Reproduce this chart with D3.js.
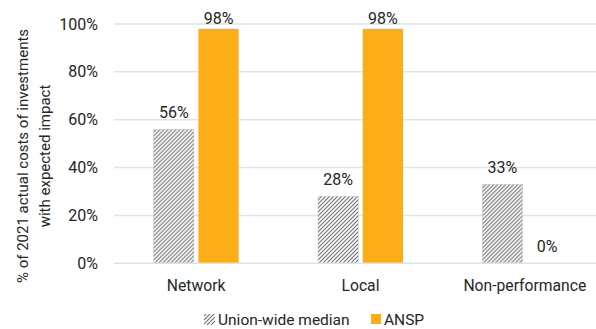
<!DOCTYPE html>
<html><head><meta charset="utf-8">
<script src="https://cdn.jsdelivr.net/npm/d3@7"></script>
<style>
html,body{margin:0;padding:0;background:#fff;}
svg text{font-family:Roboto, "Open Sans", sans-serif;fill:#262626;}
</style></head>
<body>
<svg id="c" width="596" height="329"></svg>
<script>
(function(){
const categories = ["Network", "Local", "Non-performance"];
const seriesNames = ["Union-wide median", "ANSP"];
const unionMedian = [0.56, 0.28, 0.33];
const ansp = [0.98, 0.98, 0.0];
const yTicks = [0, 0.2, 0.4, 0.6, 0.8, 1.0];
const yTitle = ["% of 2021 actual costs of investments", "with expected impact"];

const svg = d3.select("#c");
const defs = svg.append("defs");
const pat = defs.append("pattern").attr("id","hatch").attr("patternUnits","userSpaceOnUse")
  .attr("width",4).attr("height",4);
pat.append("rect").attr("width",4).attr("height",4).attr("fill","#fff");
pat.append("path").attr("d","M-1,1 l2,-2 M0,4 l4,-4 M3,5 l2,-2").attr("stroke","#707070").attr("stroke-width",1.1);

const mLeft = 114, mRight = 607, mTop = 24, mBottom = 263.3;
const x = d3.scaleBand().domain(categories).range([mLeft, mRight]).padding(0);
const y = d3.scaleLinear().domain([0, 1]).range([mBottom, mTop]);
const xs = d3.scaleBand().domain(seriesNames).range([0, 85]).paddingInner(0.1);

// gridlines
svg.append("g").selectAll("line").data(yTicks.filter(d => d > 0)).join("line")
  .attr("x1", mLeft).attr("x2", 596).attr("y1", d => y(d)).attr("y2", d => y(d))
  .attr("stroke", "#e3e3e3").attr("stroke-width", 1.5);

// y axis labels
const yAxis = d3.axisLeft(y).tickValues(yTicks).tickFormat(d3.format(".0%")).tickSize(0).tickPadding(16);
const ga = svg.append("g").attr("transform", `translate(${mLeft},0)`).call(yAxis);
ga.select(".domain").remove();
ga.selectAll("text").attr("font-size", 16).attr("fill", "#262626").attr("font-family", "Roboto, sans-serif");

const groups = svg.append("g").selectAll("g").data(categories).join("g")
  .attr("transform", d => `translate(${x(d) + x.bandwidth()/2 - 42.5},0)`);

const data = categories.map((c, i) => [
  {s: seriesNames[0], v: unionMedian[i]},
  {s: seriesNames[1], v: ansp[i]}
]);

groups.each(function(c, i) {
  const g = d3.select(this);
  g.selectAll("rect").data(data[i]).join("rect")
    .attr("x", d => xs(d.s)).attr("width", xs.bandwidth())
    .attr("y", d => y(d.v)).attr("height", d => mBottom - y(d.v))
    .attr("fill", d => d.s === seriesNames[0] ? "url(#hatch)" : "#fbae17")
    .attr("stroke", d => d.s === seriesNames[0] ? "#c4c4c4" : "none")
    .attr("stroke-width", 0.5);
  g.selectAll("text.val").data(data[i]).join("text").attr("class","val")
    .attr("x", d => xs(d.s) + xs.bandwidth()/2)
    .attr("y", d => Math.max(y(d.v) - 11.5, y(1)))
    .attr("text-anchor", "middle").attr("font-size", 16)
    .text(d => d3.format(".0%")(d.v));
});

// baseline
svg.append("line").attr("x1", mLeft).attr("x2", 596).attr("y1", mBottom).attr("y2", mBottom)
  .attr("stroke", "#d6e3f3").attr("stroke-width", 1.5);

// x labels
svg.append("g").selectAll("text").data(categories).join("text")
  .attr("x", d => x(d) + x.bandwidth()/2).attr("y", 291)
  .attr("text-anchor", "middle").attr("font-size", 15.7).text(d => d);

// y title
const yt = svg.append("text").attr("transform", "translate(0,156) rotate(-90)")
  .attr("text-anchor", "middle").attr("font-size", 15);
yt.selectAll("tspan").data(yTitle).join("tspan")
  .attr("x", 0).attr("y", (d, i) => 28 + i * 22).text(d => d);

// legend
const leg = svg.append("g");
leg.append("rect").attr("x", 204).attr("y", 314).attr("width", 11).attr("height", 11).attr("fill", "url(#hatch)");
leg.append("text").attr("x", 218).attr("y", 325).attr("font-size", 15.5).text(seriesNames[0]);
leg.append("rect").attr("x", 371).attr("y", 314).attr("width", 10).attr("height", 10).attr("fill", "#fbae17");
leg.append("text").attr("x", 384).attr("y", 325).attr("font-size", 15.5).text(seriesNames[1]);
})();
</script>
</body></html>
